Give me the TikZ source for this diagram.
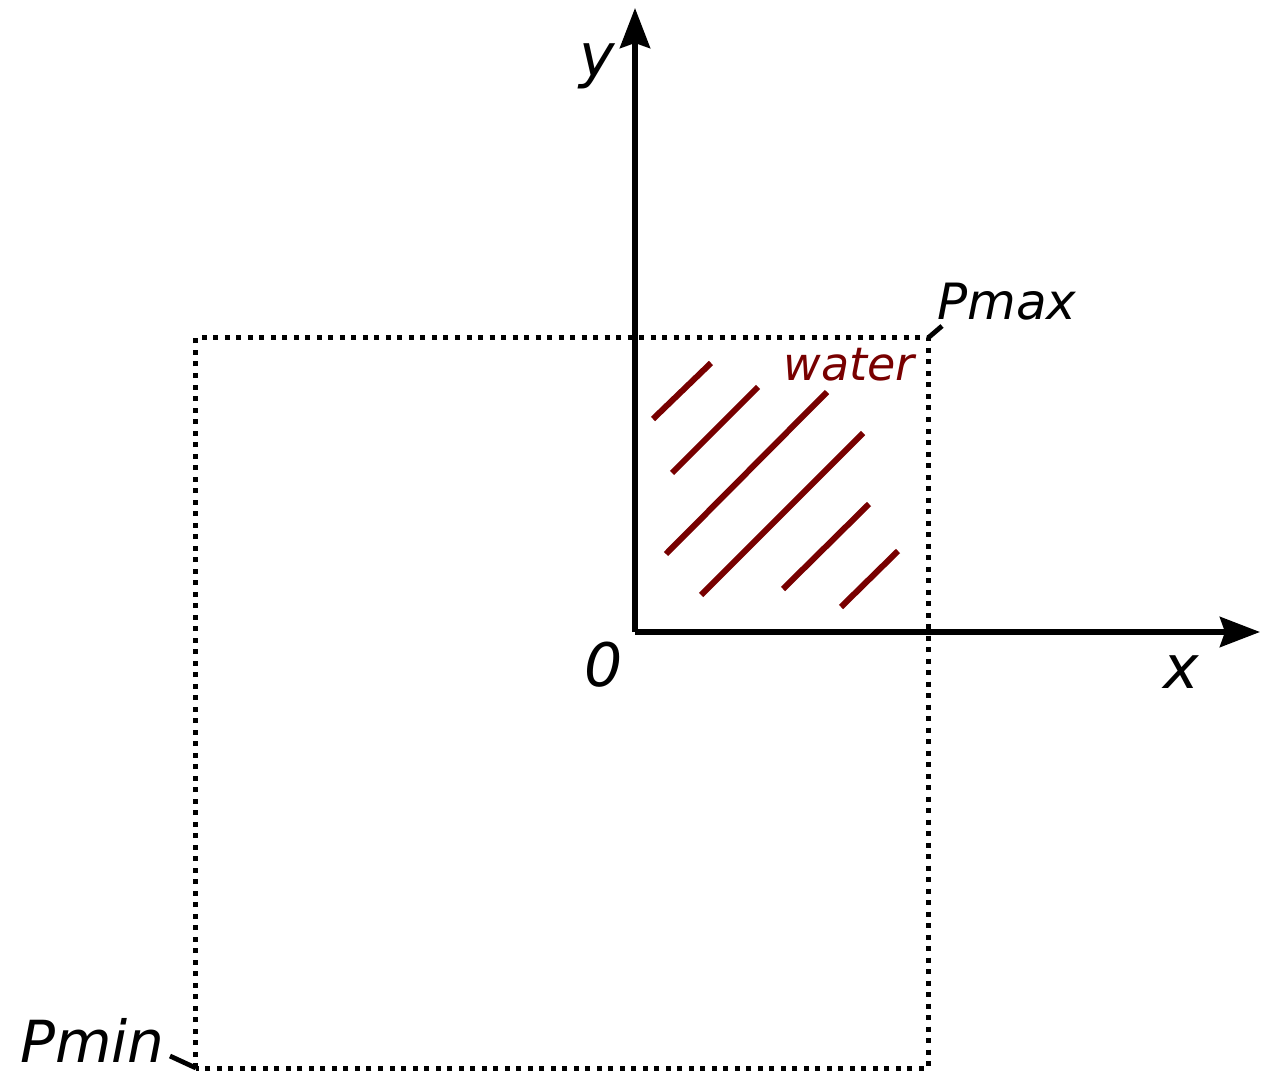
\documentclass[tikz,border=0pt]{standalone}
\usepackage{fontspec}
\setmainfont{DejaVu Sans}
\usepackage{xcolor}
\usepackage{tikz}
\usetikzlibrary{calc,arrows.meta,positioning}
\definecolor{waterRed}{RGB}{120,0,0}
\definecolor{axisBlack}{RGB}{0,0,0}
\tikzset{
    axisline/.style={axisBlack, line width=2.9pt, -{Stealth[length=20pt,width=15pt,inset=2.5pt]}},
    boxline/.style={axisBlack, line width=2.5pt, dash pattern=on 2.5pt off 3.25pt},
    leaderline/.style={axisBlack, line width=2.4pt},
    hatchline/.style={waterRed, line width=3pt},
    biglabel/.style={font=\itshape\fontsize{30}{36}\selectfont, inner sep=0pt},
    smalllabel/.style={font=\itshape\fontsize{25}{30}\selectfont, inner sep=0pt},
}
\begin{document}
\begin{tikzpicture}[x=0.5pt,y=0.5pt]
    \useasboundingbox (-635,-439) rectangle (632,632);

    % reference points
    \coordinate (O) at (0,0);
    \coordinate (xtip) at (625,0);
    \coordinate (ytip) at (0,624);
    \coordinate (pmin) at (-439,-436);
    \coordinate (pmax) at (293,294);

    % bounding box of the domain
    \draw[boxline] (pmin) rectangle (pmax);

    % axes
    \draw[axisline] (O) -- (xtip);
    \draw[axisline] (O) -- (ytip);

    % water region hatching
    \foreach \xa/\ya/\xb/\yb in {18/213/76/269, 37/159/123/245, 31/78/192/240,
                                 66/37/228/199, 148/43/234/128, 206/25/263/81}
        \draw[hatchline] (\xa,\ya) -- (\xb,\yb);

    % labels
    \node[biglabel] (ylabel) at (-38,566) {y};
    \node[biglabel] (xlabel) at (546,-40) {x};
    \node[biglabel] (olabel) at (-31,-33) {0};
    \node[smalllabel, font=\itshape\fontsize{23}{28}\selectfont, text=waterRed, anchor=base east] (water) at (280,251) {water};
    \node[smalllabel, anchor=base west] (pmaxlabel) at (302,312) {Pmax};
    \node[biglabel, font=\itshape\fontsize{29}{35}\selectfont, anchor=base east] (pminlabel) at (-470,-430) {Pmin};

    % leaders from labels to corners
    \coordinate (pmaxlead) at (307,306);
    \coordinate (pminlead) at (-465,-424);
    \draw[leaderline] (pmaxlead) -- (pmax);
    \draw[leaderline] (pminlead) -- (pmin);
\end{tikzpicture}
\end{document}
